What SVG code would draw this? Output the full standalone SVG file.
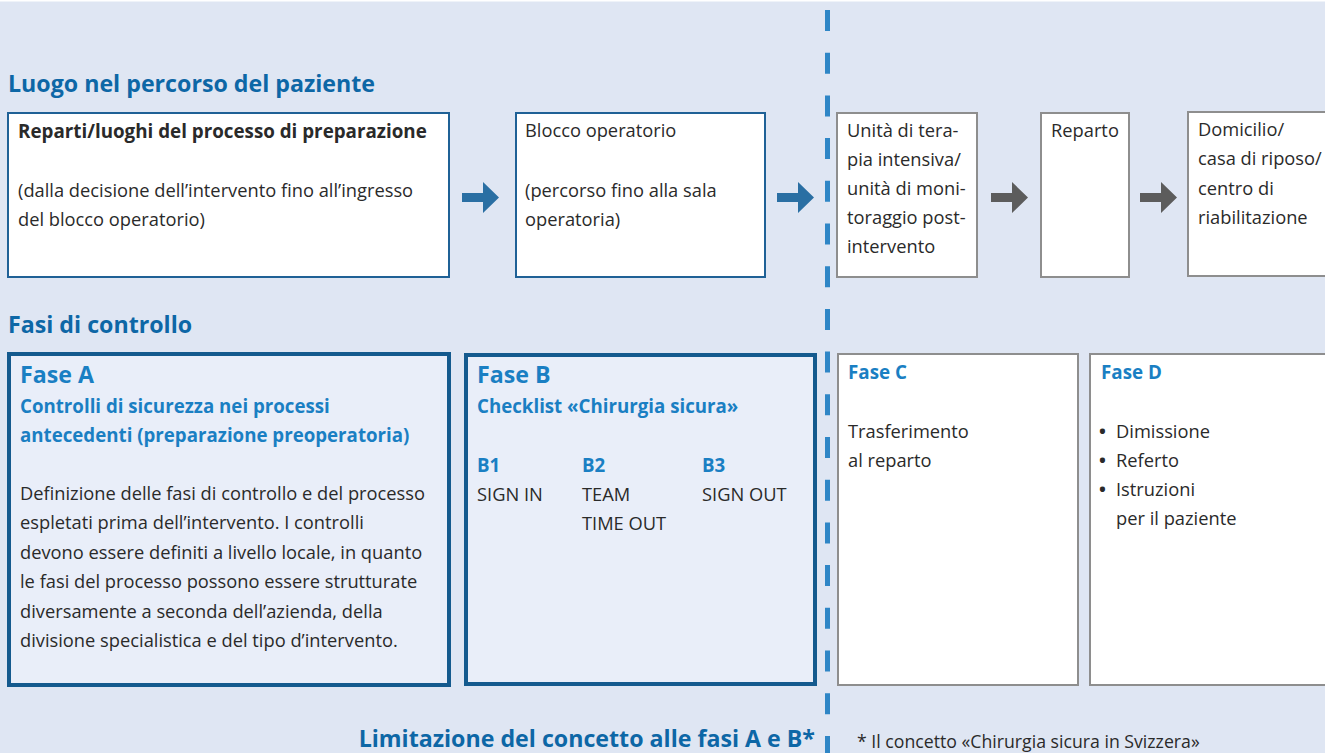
<svg xmlns="http://www.w3.org/2000/svg" width="1325" height="753" viewBox="0 0 1325 753">
<style>
text{font-family:"Open Sans","Noto Sans","Liberation Sans",sans-serif;}
.title{font-size:23.2px;font-weight:700;fill:#0d67a6;}
.body{font-size:18.3px;fill:#2a2a2a;}
.bodyb{font-size:18.8px;font-weight:700;fill:#2a2a2a;}
.fase{font-size:23.2px;font-weight:700;fill:#1a7fc3;}
.fases{font-size:18.8px;font-weight:700;fill:#1a7fc3;}
.sub{font-size:18.7px;font-weight:700;fill:#1a7fc3;}
.bullet{font-weight:700;}
.boxb{fill:#ffffff;stroke:#1f6196;stroke-width:2;}
.boxg{fill:#ffffff;stroke:#8e8e8e;stroke-width:2;}
.boxf{fill:#e9eef9;stroke:#145a8e;stroke-width:4;}
</style>
<rect x="0" y="0" width="1325" height="753" fill="#dfe6f3"/>
<rect x="0" y="0" width="1325" height="1.5" fill="#ffffff"/>

<text class="title" x="8" y="92">Luogo nel percorso del paziente</text>
<text class="title" x="8" y="333">Fasi di controllo</text>

<g id="connectors">
<line x1="827.5" y1="10" x2="827.5" y2="753" stroke="#2f86c6" stroke-width="5" stroke-dasharray="21 21.7"/>
<path d="M462 193 H483 V182 L499 197.5 L483 213 V202 H462 Z" fill="#2a6fa3"/>
<path d="M777 193 H798 V182 L814 197.5 L798 213 V202 H777 Z" fill="#2a6fa3"/>
<path d="M991 193 H1012 V182 L1028 197.5 L1012 213 V202 H991 Z" fill="#5c5c5c"/>
<path d="M1140 193 H1161 V182 L1177 197.5 L1161 213 V202 H1140 Z" fill="#5c5c5c"/>
</g>

<g id="node-reparti">
<rect class="boxb" x="8" y="113" width="441" height="164"/>
<text class="bodyb" x="18" y="138">Reparti/luoghi del processo di preparazione</text>
<text class="body" x="18" y="197">(dalla decisione dell’intervento fino all’ingresso</text>
<text class="body" x="18" y="226">del blocco operatorio)</text>
</g>

<g id="node-blocco">
<rect class="boxb" x="516" y="113" width="249" height="164"/>
<text class="body" x="525" y="137">Blocco operatorio</text>
<text class="body" x="525" y="197">(percorso fino alla sala</text>
<text class="body" x="525" y="226">operatoria)</text>
</g>

<g id="node-terapia">
<rect class="boxg" x="837" y="113" width="140" height="164"/>
<text class="body" x="847" y="137">Unità di tera-</text>
<text class="body" x="847" y="166">pia intensiva/</text>
<text class="body" x="847" y="195">unità di moni-</text>
<text class="body" x="847" y="224">toraggio post-</text>
<text class="body" x="847" y="253">intervento</text>
</g>

<g id="node-reparto">
<rect class="boxg" x="1041" y="113" width="88" height="164"/>
<text class="body" x="1051" y="137">Reparto</text>
</g>

<g id="node-domicilio">
<rect class="boxg" x="1188" y="112" width="150" height="164"/>
<text class="body" x="1198" y="136">Domicilio/</text>
<text class="body" x="1198" y="165">casa di riposo/</text>
<text class="body" x="1198" y="195">centro di</text>
<text class="body" x="1198" y="224">riabilitazione</text>
</g>

<g id="node-fase-a">
<rect class="boxf" x="9" y="354" width="440" height="331"/>
<text class="fase" x="20" y="383">Fase A</text>
<text class="sub" x="20" y="413">Controlli di sicurezza nei processi</text>
<text class="sub" x="20" y="442">antecedenti (preparazione preoperatoria)</text>
<text class="body" x="20" y="500">Definizione delle fasi di controllo e del processo</text>
<text class="body" x="20" y="529">espletati prima dell’intervento. I controlli</text>
<text class="body" x="20" y="559">devono essere definiti a livello locale, in quanto</text>
<text class="body" x="20" y="588">le fasi del processo possono essere strutturate</text>
<text class="body" x="20" y="618">diversamente a seconda dell’azienda, della</text>
<text class="body" x="20" y="647">divisione specialistica e del tipo d’intervento.</text>
</g>

<g id="node-fase-b">
<rect class="boxf" x="466" y="355" width="349" height="329"/>
<text class="fase" x="477" y="383">Fase B</text>
<text class="sub" x="477" y="413">Checklist «Chirurgia sicura»</text>
<text class="sub" x="477" y="472">B1</text>
<text class="sub" x="582" y="472">B2</text>
<text class="sub" x="702" y="472">B3</text>
<text class="body" x="477" y="501">SIGN IN</text>
<text class="body" x="582" y="501">TEAM</text>
<text class="body" x="582" y="530">TIME OUT</text>
<text class="body" x="702" y="501">SIGN OUT</text>
</g>

<g id="node-fase-c">
<rect class="boxg" x="838" y="354" width="240" height="331"/>
<text class="fases" x="848" y="379">Fase C</text>
<text class="body" x="848" y="438">Trasferimento</text>
<text class="body" x="848" y="467">al reparto</text>
</g>

<g id="node-fase-d">
<rect class="boxg" x="1090" y="354" width="250" height="331"/>
<text class="fases" x="1101" y="379">Fase D</text>
<text class="body" y="438"><tspan class="bullet" x="1099">•</tspan><tspan x="1116">Dimissione</tspan></text>
<text class="body" y="467"><tspan class="bullet" x="1099">•</tspan><tspan x="1116">Referto</tspan></text>
<text class="body" y="496"><tspan class="bullet" x="1099">•</tspan><tspan x="1116">Istruzioni</tspan></text>
<text class="body" x="1116" y="525">per il paziente</text>
</g>

<text class="title" x="815" y="747" text-anchor="end">Limitazione del concetto alle fasi A e B*</text>
<text class="body" x="857" y="748" style="font-size:17.7px">* Il concetto «Chirurgia sicura in Svizzera»</text>
</svg>
